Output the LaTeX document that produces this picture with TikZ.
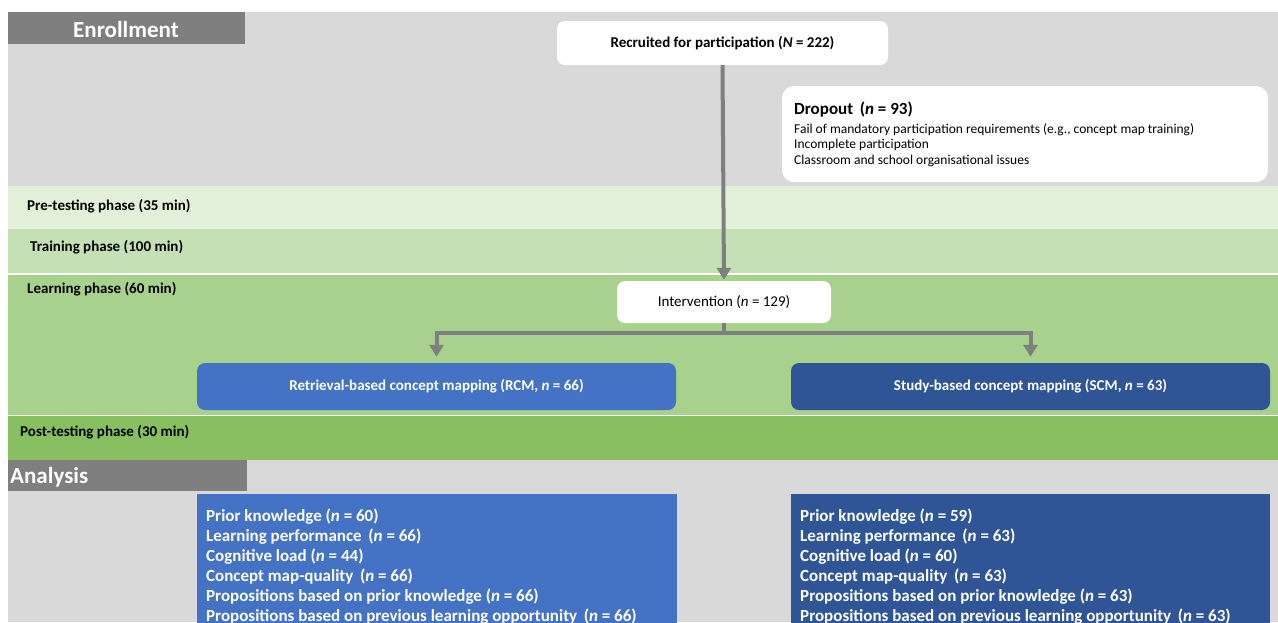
\documentclass[tikz,border=0pt]{standalone}
\usepackage{fontspec}
\setmainfont{Carlito}
\usetikzlibrary{arrows.meta,positioning}
\definecolor{bggray}{HTML}{D9D9D9}
\definecolor{hdrgray}{HTML}{7F7F7F}
\definecolor{pregreen}{HTML}{E2F0D9}
\definecolor{traingreen}{HTML}{C5E0B4}
\definecolor{learngreen}{HTML}{A9D18E}
\definecolor{postgreen}{HTML}{88BF60}
\definecolor{rcmblue}{HTML}{4472C4}
\definecolor{scmblue}{HTML}{2F5597}
\definecolor{arrgray}{HTML}{7F7F7F}
\tikzset{
  whitebox/.style={fill=white, rounded corners=8pt, inner sep=0pt, font=\fontsize{15}{17}\selectfont\bfseries},
  groupbox/.style={rounded corners=8pt, inner sep=0pt, text=white, font=\fontsize{15}{17}\selectfont\bfseries, minimum width=479pt, minimum height=47pt},
  phaselabel/.style={anchor=west, inner sep=0pt, font=\fontsize{15}{17}\selectfont\bfseries},
  dropline/.style={anchor=base west, inner sep=0pt, font=\fontsize{13.5}{15}\selectfont},
  conn/.style={draw=arrgray, line width=4pt},
  connarrow/.style={conn, -{Triangle[width=14pt,length=12pt]}},
  anatext/.style={anchor=north west, inner sep=0pt, align=left, text=white, font=\fontsize{17}{20}\selectfont\bfseries},
}
\begin{document}
\begin{tikzpicture}[x=1pt,y=-1pt]
\useasboundingbox (0,0) rectangle (1278,622);
% background bands
\fill[bggray] (8,12) rectangle (1278,186);
\fill[pregreen] (8,186) rectangle (1278,229);
\fill[traingreen] (8,229) rectangle (1278,273);
\fill[learngreen] (8,274.5) rectangle (1278,414.5);
\fill[postgreen] (8,416) rectangle (1278,460);
\fill[bggray] (8,460) rectangle (1278,622);
% headers
\fill[hdrgray] (8,12) rectangle (245,44);
\node[text=white, font=\fontsize{23}{25}\selectfont\bfseries, inner sep=0pt] (enrol) at (126,29.5) {Enrollment};
\fill[hdrgray] (8,460) rectangle (247,491);
\node[text=white, font=\fontsize{23}{25}\selectfont\bfseries, inner sep=0pt, anchor=west] (anal) at (10,477) {Analysis};
% phase labels
\node[phaselabel] (pre) at (27,206) {Pre-testing phase (35 min)};
\node[phaselabel] (train) at (30,247) {Training phase (100 min)};
\node[phaselabel] (learn) at (27,289) {Learning phase (60 min)};
\node[phaselabel] (post) at (20,432) {Post-testing phase (30 min)};
% boxes
\node[whitebox, minimum width=331pt, minimum height=44pt] (rec) at (722.5,43) {Recruited for participation (\textit{N} = 222)};
\node[fill=white, rounded corners=12pt, minimum width=486pt, minimum height=96pt, inner sep=0pt] (drop) at (1025,134) {};
\node[dropline, font=\fontsize{17}{19}\selectfont\bfseries] (droptitle) at (794,114) {Dropout\ \,(\textit{n} = 93)};
\node[dropline] (drop1) at (794,133) {Fail of mandatory participation requirements (e.g.,\ concept map training)};
\node[dropline] (drop2) at (794,148.5) {Incomplete participation};
\node[dropline] (drop3) at (794,164) {Classroom and school organisational issues};
\node[whitebox, font=\fontsize{15}{17}\selectfont, minimum width=214pt, minimum height=42pt] (iv) at (724,302) {Intervention (\textit{n} = 129)};
\node[groupbox, fill=rcmblue] (rcm) at (436.5,386.5) {Retrieval-based concept mapping (RCM, \textit{n} = 66)};
\node[groupbox, fill=scmblue] (scm) at (1030.5,386.5) {Study-based concept mapping (SCM, \textit{n} = 63)};
% analysis boxes
\fill[rcmblue] (197,494) rectangle (677,640);
\fill[scmblue] (791,494) rectangle (1270,640);
\node[anatext] (rcmana) at (206,509) {Prior knowledge (\textit{n} = 60)\\
Learning performance\ \,(\textit{n} = 66)\\
Cognitive load (\textit{n} = 44)\\
Concept map-quality\ \,(\textit{n} = 66)\\
Propositions based on prior knowledge (\textit{n} = 66)\\
Propositions based on previous learning opportunity\ \,(\textit{n} = 66)};
\node[anatext] (scmana) at (800,509) {Prior knowledge (\textit{n} = 59)\\
Learning performance\ \,(\textit{n} = 63)\\
Cognitive load (\textit{n} = 60)\\
Concept map-quality\ \,(\textit{n} = 63)\\
Propositions based on prior knowledge (\textit{n} = 63)\\
Propositions based on previous learning opportunity\ \,(\textit{n} = 63)};
% connectors
\draw[connarrow, shorten >=1pt] (rec.south) -- (iv.north);
\coordinate (bj) at (724,333);
\draw[conn] (iv.south) -- (bj);
\draw[connarrow, shorten >=6pt] (bj) -| (rcm.north);
\draw[connarrow, shorten >=6pt] (bj) -| (scm.north);
\end{tikzpicture}
\end{document}
